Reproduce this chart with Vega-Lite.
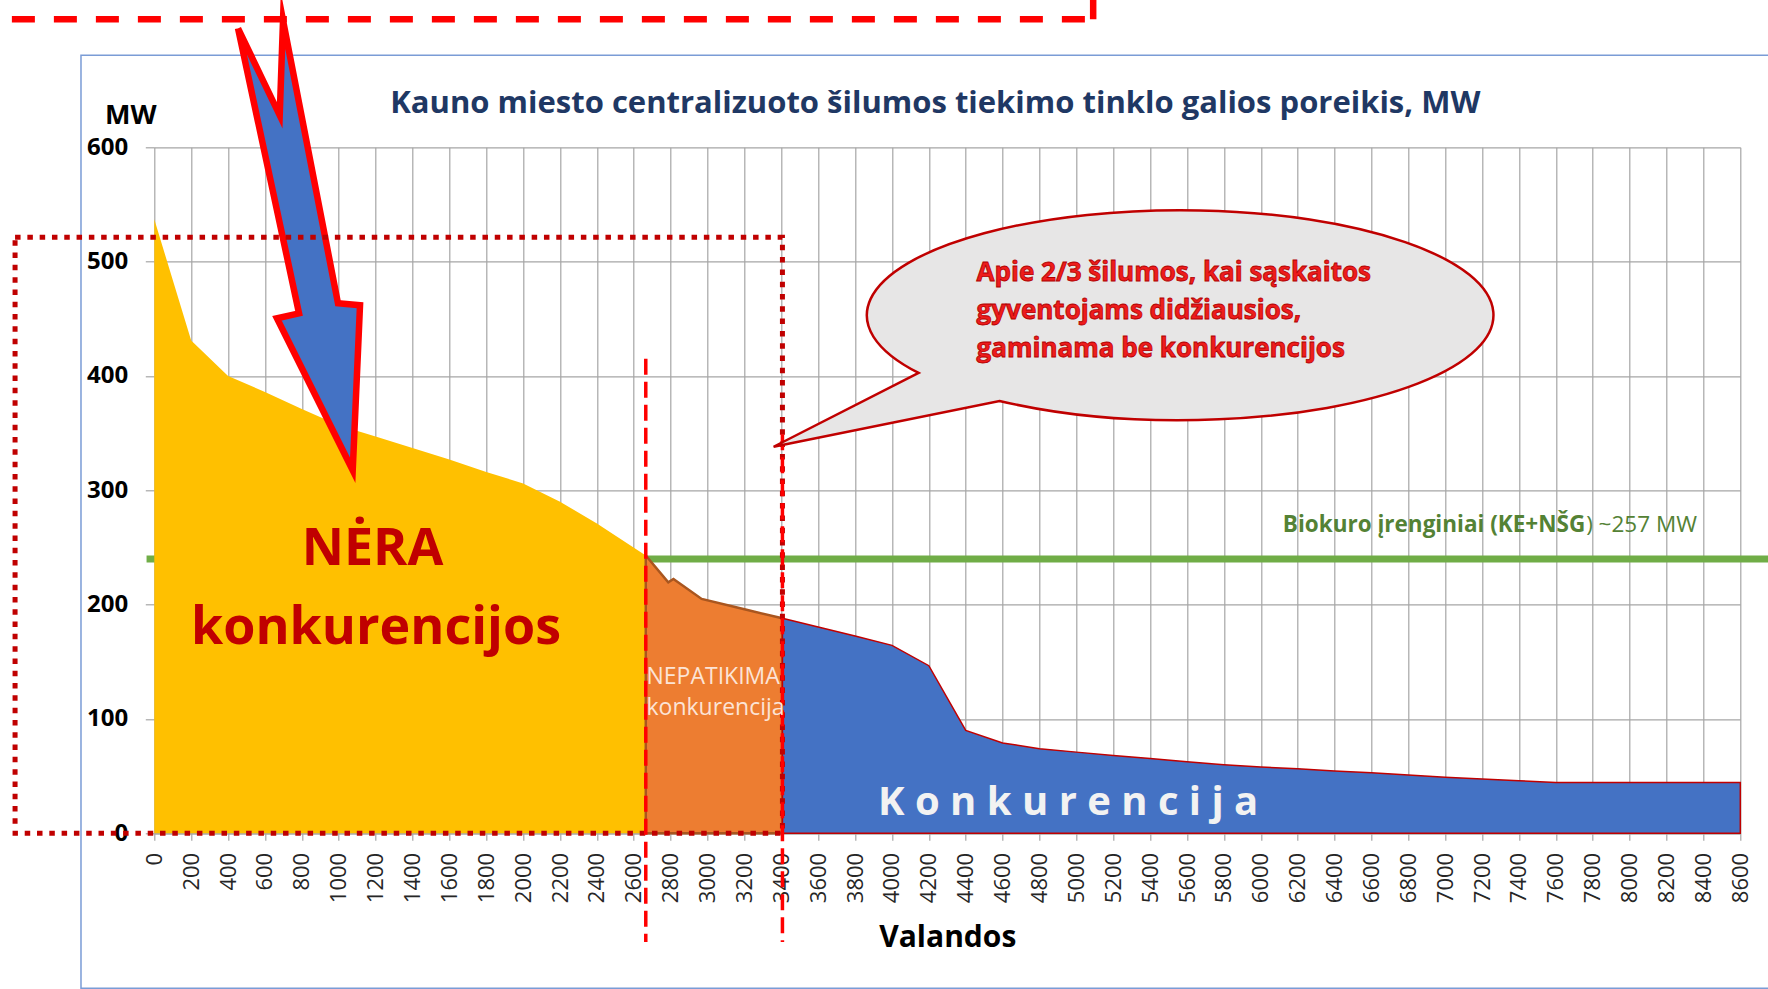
{
  "$schema": "https://vega.github.io/schema/vega-lite/v6.json",
  "width": 1586,
  "height": 686,
  "autosize": {"type": "none"},
  "padding": {"left": 154.3, "top": 147.3, "right": 27.7, "bottom": 155.7},
  "background": "white",
  "config": {"view": {"stroke": null}, "font": "Open Sans"},
  "encoding": {
    "x": {
      "field": "h", "type": "quantitative",
      "scale": {"domain": [0, 8600], "nice": false, "zero": false},
      "axis": {
        "values": [0,200,400,600,800,1000,1200,1400,1600,1800,2000,2200,2400,2600,2800,3000,3200,3400,3600,3800,4000,4200,4400,4600,4800,5000,5200,5400,5600,5800,6000,6200,6400,6600,6800,7000,7200,7400,7600,7800,8000,8200,8400,8600],
        "format": "d",
        "labelAngle": -90, "labelFont": "Open Sans", "labelFontSize": 22, "labelColor": "#262626",
        "labelPadding": 12, "labelFlush": false, "labelOverlap": false,
        "tickSize": 7, "tickColor": "#A6A6A6", "tickWidth": 1.2,
        "domainColor": "#A6A6A6", "domainWidth": 1.2,
        "grid": true, "gridColor": "#A6A6A6", "gridWidth": 1.2,
        "title": "Valandos", "titleFont": "Open Sans", "titleFontSize": 30, "titleFontWeight": "bold", "titleColor": "#000000",
        "titleY": 113.5, "titleBaseline": "alphabetic"
      }
    },
    "y": {
      "field": "mw", "type": "quantitative",
      "scale": {"domain": [0, 600], "nice": false, "zero": false},
      "axis": {
        "values": [0,100,200,300,400,500,600],
        "labelFont": "Open Sans", "labelFontSize": 24, "labelFontWeight": "bold", "labelColor": "#000000",
        "labelPadding": 17.6, "labelFlush": false, "labelOverlap": false,
        "tickSize": 9, "tickColor": "#A6A6A6", "tickWidth": 1.2,
        "domain": false,
        "grid": true, "gridColor": "#A6A6A6", "gridWidth": 1.2,
        "title": "MW", "titleFont": "Open Sans", "titleFontSize": 27, "titleFontWeight": "bold", "titleColor": "#000000",
        "titleAngle": 0, "titleX": -24, "titleY": -24, "titleAlign": "center", "titleBaseline": "alphabetic"
      }
    }
  },
  "layer": [
    {
      "data": {"values": [{"h": -397.5, "h2": 9000, "mw": 680.5, "mw2": -135.6}]},
      "mark": {"type": "rect", "fillOpacity": 0, "stroke": "#7A9CD6", "strokeWidth": 1.5, "clip": false},
      "encoding": {"x2": {"field": "h2"}, "y2": {"field": "mw2"}}
    },
    {
      "data": {"values": [{"h": -42, "h2": 8900, "mw": 240}]},
      "mark": {"type": "rule", "stroke": "#70AD47", "strokeWidth": 7, "clip": false},
      "encoding": {"x2": {"field": "h2"}}
    },
    {
      "data": {"name": "curve", "values": [
        {"h": 0, "mw": 537, "seg": "a"}, {"h": 200, "mw": 431, "seg": "a"}, {"h": 400, "mw": 400, "seg": "a"},
        {"h": 600, "mw": 386, "seg": "a"}, {"h": 800, "mw": 371, "seg": "a"}, {"h": 1000, "mw": 357, "seg": "a"},
        {"h": 1200, "mw": 347, "seg": "a"}, {"h": 1400, "mw": 337, "seg": "a"}, {"h": 1600, "mw": 327, "seg": "a"},
        {"h": 1800, "mw": 316, "seg": "a"}, {"h": 2000, "mw": 306, "seg": "a"}, {"h": 2200, "mw": 290, "seg": "a"},
        {"h": 2400, "mw": 271, "seg": "a"}, {"h": 2665, "mw": 243, "seg": "a"},
        {"h": 2665, "mw": 243, "seg": "b"}, {"h": 2787, "mw": 219.5, "seg": "b"}, {"h": 2815, "mw": 222.5, "seg": "b"},
        {"h": 2968, "mw": 205, "seg": "b"}, {"h": 3200, "mw": 196, "seg": "b"}, {"h": 3406, "mw": 188, "seg": "b"},
        {"h": 3406, "mw": 188, "seg": "c"}, {"h": 3600, "mw": 180.5, "seg": "c"}, {"h": 3800, "mw": 172.6, "seg": "c"},
        {"h": 4000, "mw": 164.4, "seg": "c"}, {"h": 4200, "mw": 146.6, "seg": "c"}, {"h": 4400, "mw": 90, "seg": "c"},
        {"h": 4600, "mw": 79, "seg": "c"}, {"h": 4800, "mw": 74, "seg": "c"}, {"h": 5000, "mw": 71, "seg": "c"},
        {"h": 5200, "mw": 68, "seg": "c"}, {"h": 5400, "mw": 65.5, "seg": "c"}, {"h": 5600, "mw": 62.5, "seg": "c"},
        {"h": 5800, "mw": 60, "seg": "c"}, {"h": 6000, "mw": 58, "seg": "c"}, {"h": 6200, "mw": 56.5, "seg": "c"},
        {"h": 6400, "mw": 54.5, "seg": "c"}, {"h": 6600, "mw": 53, "seg": "c"}, {"h": 6800, "mw": 51, "seg": "c"},
        {"h": 7000, "mw": 49, "seg": "c"}, {"h": 7200, "mw": 47.5, "seg": "c"}, {"h": 7400, "mw": 46, "seg": "c"},
        {"h": 7600, "mw": 44.5, "seg": "c"}, {"h": 8600, "mw": 44.5, "seg": "c"}
      ]},
      "layer": [
        {"transform": [{"filter": "datum.seg === 'a'"}], "mark": {"type": "area", "fill": "#FFC000"}},
        {"transform": [{"filter": "datum.seg === 'b'"}], "mark": {"type": "area", "fill": "#ED7D31", "stroke": "#A9561F", "strokeWidth": 2.5}},
        {"transform": [{"filter": "datum.seg === 'c'"}], "mark": {"type": "area", "fill": "#4472C4", "stroke": "#C00000", "strokeWidth": 1.5}}
      ]
    },
    {
      "data": {"values": [{"h": -1000, "h2": 5091, "mw": 712}]},
      "mark": {"type": "rule", "stroke": "#FF0000", "strokeWidth": 6.5, "strokeDash": [23, 19], "clip": false},
      "encoding": {"x2": {"field": "h2"}}
    },
    {
      "data": {"values": [{"h": 5091, "mw": 712, "mw2": 800}]},
      "mark": {"type": "rule", "stroke": "#FF0000", "strokeWidth": 6.5, "strokeDash": [23, 19], "clip": false},
      "encoding": {"y2": {"field": "mw2"}}
    },
    {
      "data": {"values": [
        {"h": 454, "mw": 704, "o": 1}, {"h": 680, "mw": 628, "o": 2}, {"h": 698, "mw": 711, "o": 3},
        {"h": 996, "mw": 463.6, "o": 4}, {"h": 1115.5, "mw": 461.8, "o": 5}, {"h": 1075.9, "mw": 317.5, "o": 6},
        {"h": 665, "mw": 450.5, "o": 7}, {"h": 784.7, "mw": 454.8, "o": 8}, {"h": 454, "mw": 704, "o": 9}
      ]},
      "mark": {"type": "line", "fill": "#4472C4", "stroke": "#FF0000", "strokeWidth": 6.5, "strokeJoin": "miter", "strokeMiterLimit": 10, "clip": false},
      "encoding": {"order": {"field": "o", "type": "quantitative"}}
    },
    {
      "data": {"values": [{"h": -755, "h2": 3406, "mw": 0, "mw2": 521.3}]},
      "mark": {"type": "rect", "fillOpacity": 0, "stroke": "#C00000", "strokeWidth": 5, "strokeDash": [5.5, 6.8], "clip": false},
      "encoding": {"x2": {"field": "h2"}, "y2": {"field": "mw2"}}
    },
    {
      "data": {"values": [{"h": 2665, "mw": 415, "mw2": -95}, {"h": 3406, "mw": 349, "mw2": -95}]},
      "mark": {"type": "rule", "stroke": "#FF0000", "strokeWidth": 3.5, "strokeDash": [16, 7], "clip": false},
      "encoding": {"y2": {"field": "mw2"}}
    },
    {
      "data": {"values": [{"h": 5557, "mw": 453.1}]},
      "mark": {"type": "point", "filled": true, "opacity": 1, "fill": "#E7E6E6", "stroke": "#C00000", "strokeWidth": 2.5,
        "size": 392628,
        "shape": "M -0.8315 0.1842 L -1.2943 0.4197 L -0.5733 0.2735 A 1 0.3351 0 1 0 -0.8315 0.1842 Z", "clip": false}
    },
    {
      "data": {"values": [{"h": 4235, "mw": 630, "t": "Kauno miesto centralizuoto šilumos tiekimo tinklo galios poreikis, MW"}]},
      "mark": {"type": "text", "font": "Open Sans", "fontSize": 31, "fontWeight": "bold", "fill": "#1F3864", "align": "center", "baseline": "alphabetic", "clip": false},
      "encoding": {"text": {"field": "t"}}
    },
    {
      "data": {"values": [{"h": 1183, "mw": 234.4, "t": "NĖRA"}, {"h": 1202, "mw": 165.9, "t": "konkurencijos"}]},
      "mark": {"type": "text", "font": "Open Sans", "fontSize": 52, "fontWeight": "bold", "fill": "#C00000", "align": "center", "baseline": "alphabetic"},
      "encoding": {"text": {"field": "t"}}
    },
    {
      "data": {"values": [{"h": 2669, "mw": 130.3, "t": "NEPATIKIMA"}, {"h": 2669, "mw": 103.2, "t": "konkurencija"}]},
      "mark": {"type": "text", "font": "Open Sans", "fontSize": 23, "fill": "#FCE4D6", "align": "left", "baseline": "alphabetic"},
      "encoding": {"text": {"field": "t"}}
    },
    {
      "data": {"values": [{"h": 4955, "mw": 15.7, "t": "K o n k u r e n c i j a"}]},
      "mark": {"type": "text", "font": "Open Sans", "fontSize": 40, "fontWeight": "bold", "fill": "#F2F2F2", "align": "center", "baseline": "alphabetic"},
      "encoding": {"text": {"field": "t"}}
    },
    {
      "data": {"values": [
        {"h": 4459, "mw": 483.1, "t": "Apie 2/3 šilumos, kai sąskaitos"},
        {"h": 4459, "mw": 450.2, "t": "gyventojams didžiausios,"},
        {"h": 4459, "mw": 416.6, "t": "gaminama be konkurencijos"}
      ]},
      "mark": {"type": "text", "font": "Open Sans", "fontSize": 26, "fontWeight": "bold", "fill": "#EE1C1C", "stroke": "#B00000", "strokeWidth": 0.8, "align": "left", "baseline": "alphabetic"},
      "encoding": {"text": {"field": "t"}}
    },
    {
      "data": {"values": [{"h": 6119.5, "mw": 263.5, "t": "Biokuro įrenginiai (KE+NŠG"}]},
      "mark": {"type": "text", "font": "Open Sans", "fontSize": 22.5, "fontWeight": "bold", "fill": "#548235", "align": "left", "baseline": "alphabetic"},
      "encoding": {"text": {"field": "t"}}
    },
    {
      "data": {"values": [{"h": 7764, "mw": 263.5, "t": ") ~257 MW"}]},
      "mark": {"type": "text", "font": "Open Sans", "fontSize": 22.5, "fill": "#548235", "align": "left", "baseline": "alphabetic"},
      "encoding": {"text": {"field": "t"}}
    }
  ]
}
